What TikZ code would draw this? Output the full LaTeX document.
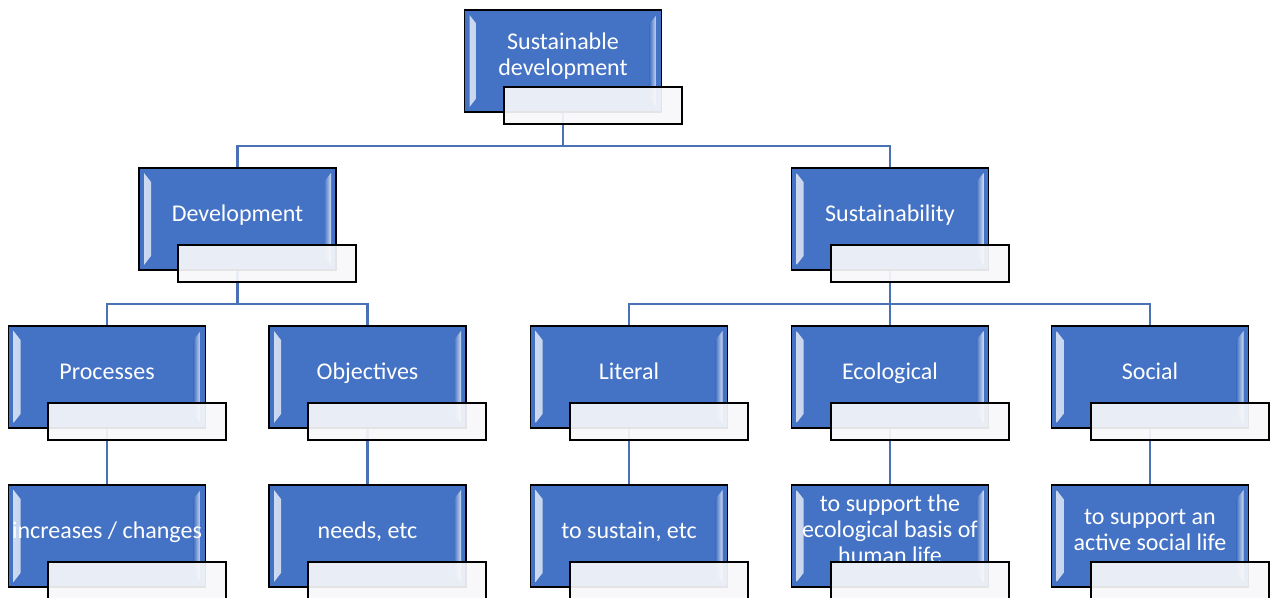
\documentclass[tikz,border=0pt]{standalone}
\usepackage{fontspec}
\setmainfont{Carlito}
\pgfdeclarelayer{background}
\pgfsetlayers{background,main}
\newdimen\pxu \pxu=0.75pt
\definecolor{boxblue}{HTML}{4472C4}
\definecolor{linkblue}{HTML}{4A70B6}
\definecolor{capfill}{HTML}{F8F8FA}
\begin{document}
\begin{tikzpicture}
[x=0.75pt,y=-0.75pt,
 nodedecorate/.style={shape=rectangle,draw=black,line width=1.5\pxu,fill=boxblue,%
   minimum width=197\pxu,minimum height=102\pxu,inner sep=0pt,
   path picture={
     \shade[left color=white!75!boxblue,right color=boxblue]
       ([shift={(5,5)}]path picture bounding box.north west)
       -- ([shift={(12,14)}]path picture bounding box.north west)
       -- ([shift={(12,-14)}]path picture bounding box.south west)
       -- ([shift={(5,-5)}]path picture bounding box.south west) -- cycle;
     \shade[left color=boxblue,right color=white!75!boxblue]
       ([shift={(-5,5)}]path picture bounding box.north east)
       -- ([shift={(-12,14)}]path picture bounding box.north east)
       -- ([shift={(-12,-14)}]path picture bounding box.south east)
       -- ([shift={(-5,-5)}]path picture bounding box.south east) -- cycle;
   }},%
 textdecorate/.style={text=white,align=center,yshift=2.5\pxu,%
   font=\fontsize{18}{19.5}\selectfont,%
   execute at begin node=\strut,execute at end node=\strut},%
 capdecorate/.style={shape=rectangle,draw=black,line width=2\pxu,%
   fill=capfill,fill opacity=0.92,%
   minimum width=178\pxu,minimum height=37\pxu,inner sep=0pt},%
 linedecorate/.style={-,draw=linkblue,line width=2.5\pxu}]
\useasboundingbox (0,0) rectangle (1272,598);
%% nodes or vertices
\foreach \nodename/\x/\y/\nodetext in {SusDev/563/61/{Sustainable\\development},
    Devel/237.5/219/Development, Sustain/890/219/Sustainability,
    Process/107/377/Processes, Objective/367.5/377/Objectives,
    Literal/629/377/Literal, Ecology/890/377/Ecological, Social/1150/377/Social,
    Change/107/536/{increases / changes}, Need/367.5/536/{needs, etc},
    ToSustain/629/536/{to sustain, etc},
    EcoBasis/890/536/{to support the\\ecological basis of\\human life},
    SocLife/1150/536/{to support an\\active social life}} {
  \node (\nodename) at (\x,\y) [nodedecorate,label={[textdecorate]center:\nodetext}] {};
  \node (\nodename-cap) at ([shift={(29.5,44.5)}]\nodename.center) [capdecorate] {};
}
%% edges or lines
\begin{pgfonlayer}{background}
\fill[white] (0,0) rectangle (1272,598);
\path
\foreach \startnode/\endnode in {SusDev/Devel, SusDev/Sustain, Devel/Process,
    Devel/Objective, Sustain/Literal, Sustain/Ecology, Sustain/Social,
    Process/Change, Objective/Need, Literal/ToSustain, Ecology/EcoBasis,
    Social/SocLife} {
  (\startnode.center) edge[linedecorate,to path={-- ++(0,85) -| (\tikztotarget)}] (\endnode.center)
};
\end{pgfonlayer}
\end{tikzpicture}
\end{document}
